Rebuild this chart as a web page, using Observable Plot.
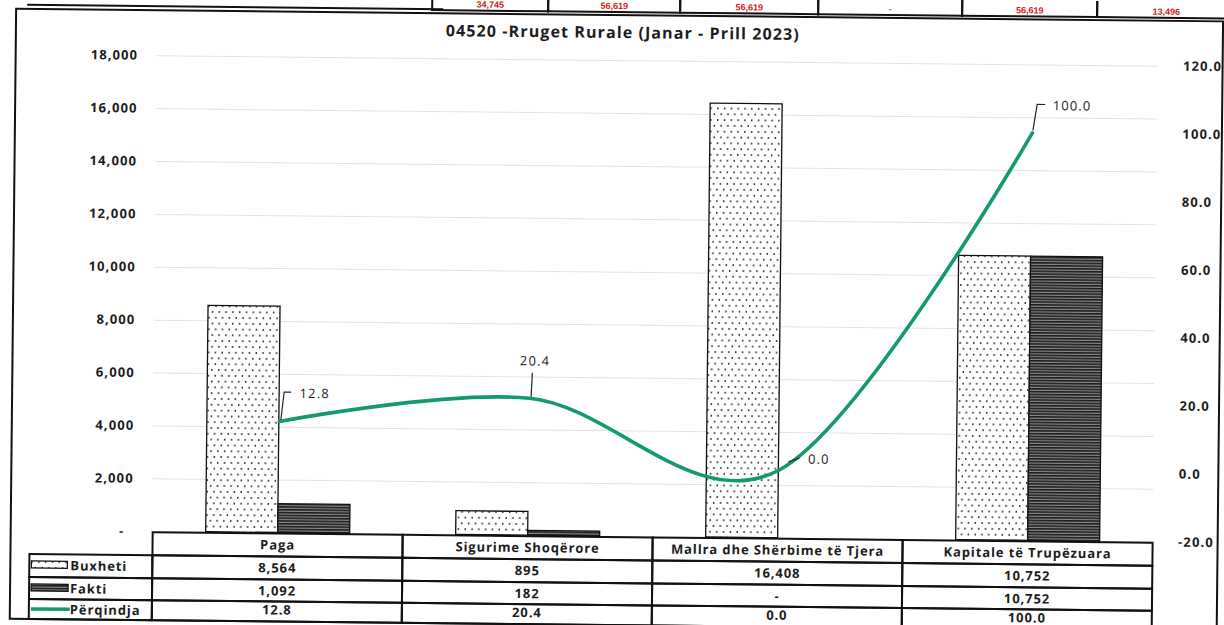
<!DOCTYPE html>
<html><head><meta charset="utf-8">
<script src="https://cdn.jsdelivr.net/npm/d3@7"></script>
<script src="https://cdn.jsdelivr.net/npm/@observablehq/plot@0.6"></script>
<style>
html,body{margin:0;padding:0;background:#fff;}
#page{position:relative;width:1224px;height:625px;overflow:hidden;background:#fff;font-family:'Open Sans',sans-serif;color:#1c1c1c;}
#rot{position:absolute;left:0;top:0;width:1224px;height:625px;transform:rotate(0.6deg);transform-origin:612px 312px;}
.abs{position:absolute;box-sizing:border-box;}
.cell{position:absolute;box-sizing:border-box;border:2px solid #111;display:flex;align-items:center;justify-content:center;font-weight:700;font-size:13px;letter-spacing:0.9px;white-space:nowrap;color:#1c1c1c;}
.strip{position:absolute;box-sizing:border-box;border:2px solid #111;border-top:none;display:flex;align-items:flex-end;justify-content:center;font-family:'Liberation Sans Narrow','Liberation Sans',sans-serif;font-weight:700;font-size:9px;color:#d9201c;line-height:9px;padding-bottom:0px;}
</style></head><body>
<div id="page"><div id="rot"></div></div>
<script>
// ---------- data ----------
const categories = ["Paga", "Sigurime Shoqërore", "Mallra dhe Shërbime të Tjera", "Kapitale të Trupëzuara"];
const buxheti = [8564, 895, 16408, 10752];
const fakti = [1092, 182, 0, 10752];
const perqindja = [12.8, 20.4, 0.0, 100.0];
const seriesNames = ["Buxheti", "Fakti", "Përqindja"];
const leftTicks = [0, 2000, 4000, 6000, 8000, 10000, 12000, 14000, 16000, 18000];
const rightTicks = [-20, 0, 20, 40, 60, 80, 100, 120];
const chartTitle = "04520 -Rruget Rurale (Janar - Prill 2023)";
const stripValues = ["34,745", "56,619", "56,619", "-", "56,619", "13,496"];

// ---------- helpers ----------
const rot = document.getElementById("rot");
const NS = "http://www.w3.org/2000/svg";
function div(cls, style, text) {
  const d = document.createElement("div");
  d.className = cls;
  Object.assign(d.style, style);
  if (text) d.textContent = text;
  rot.appendChild(d);
  return d;
}

// cropped table row above the chart
div("abs", {left: "24px", top: "10px", width: "416px", height: "2px", background: "#111"});
const stripEdges = [429, 545, 677, 815, 959, 1094, 1232];
for (let i = 0; i < stripEdges.length - 1; i++) {
  div("strip", {left: (stripEdges[i] - 1) + "px", top: "-4px", width: (stripEdges[i + 1] - stripEdges[i] + 2) + "px", height: "16.5px"}, stripValues[i]);
}

// outer frame
div("abs", {left: "12px", top: "14px", width: "1209px", height: "612px", border: "2.5px solid #111"});

// title
div("abs", {left: "0px", top: "21px", width: "1240px", textAlign: "center", fontWeight: "700", fontSize: "16px", letterSpacing: "1.1px", color: "#1c1c1c"}, chartTitle);

// ---------- chart ----------
const pctToLeft = d3.scaleLinear().domain([-20, 120]).range([0, 18000]);
const fmtPct = v => ((Math.round(v * 10) / 10) || 0).toFixed(1);
const bars = categories.flatMap((c, i) => [
  {cat: c, s: seriesNames[0], v: buxheti[i]},
  {cat: c, s: seriesNames[1], v: fakti[i]}
]);
const lineData = categories.map((c, i) => ({cat: c, p: perqindja[i], v: pctToLeft(perqindja[i])}));

const labelStyle = {
  "Paga": {dx: 20, dy: -28, anchor: "start", leader: [[2, -1], [5, -29], [12, -29]]},
  "Sigurime Shoqërore": {dx: 5, dy: -37, anchor: "middle", leader: [[2, -1], [3, -25]]},
  "Mallra dhe Shërbime të Tjera": {dx: 29, dy: -11, anchor: "start", leader: [[10, -8], [21, -12]]},
  "Kapitale të Trupëzuara": {dx: 20, dy: -27, anchor: "start", leader: [[1, -2], [5, -28], [13, -28]]}
};

const chart = Plot.plot({
  width: 1224,
  height: 537,
  marginTop: 60,
  marginBottom: 1,
  marginLeft: 154,
  marginRight: 69,
  style: {background: "transparent", fontFamily: "'Open Sans', sans-serif", fontSize: "13px", fontWeight: "700", color: "#1c1c1c", letterSpacing: "1.1px", overflow: "visible", position: "absolute", left: "0px", top: "0px"},
  x: {domain: categories, padding: 0, axis: null, label: null},
  y: {domain: [0, 18000], axis: null, label: null},
  marks: [
    Plot.gridY(leftTicks, {stroke: "#e2e2e2", strokeOpacity: 1}),
    Plot.barY(bars.filter(d => d.s === seriesNames[0]), {x: "cat", y: "v", fill: "url(#dots)", stroke: "#111", strokeWidth: 1.3, insetLeft: 53, insetRight: 125}),
    Plot.barY(bars.filter(d => d.s === seriesNames[1]), {x: "cat", y: "v", fill: "url(#hlines)", stroke: "#111", strokeWidth: 1.3, insetLeft: 125, insetRight: 53}),
    Plot.line(lineData, {x: "cat", y: "v", curve: "cardinal", stroke: "#139a6f", strokeWidth: 3.6}),
    Plot.axisY(leftTicks, {anchor: "left", label: null, tickSize: 0, tickPadding: 19, tickFormat: d => d === 0 ? "-\u00a0\u00a0" : d3.format(",")(d)}),
    Plot.axisY(rightTicks.map(t => pctToLeft(t)), {anchor: "right", label: null, tickSize: 0, tickPadding: 25, tickFormat: d => fmtPct(pctToLeft.invert(d))}),
    categories.map(c => Plot.text(lineData, {
      filter: d => d.cat === c, x: "cat", y: "v", text: d => fmtPct(d.p),
      dx: labelStyle[c].dx, dy: labelStyle[c].dy, textAnchor: labelStyle[c].anchor,
      fontWeight: 400, fontSize: 13, fill: "#222"
    }))
  ]
});

// patterns
const defs = document.createElementNS(NS, "defs");
defs.innerHTML = `
<pattern id="dots" patternUnits="userSpaceOnUse" width="6.8" height="11.6">
  <rect width="6.8" height="11.6" fill="#fff"/>
  <circle cx="1.7" cy="2.9" r="0.85" fill="#1a1a1a"/>
  <circle cx="5.1" cy="8.7" r="0.85" fill="#1a1a1a"/>
</pattern>
<pattern id="hlines" patternUnits="userSpaceOnUse" width="8" height="2.8">
  <rect width="8" height="2.8" fill="#8a8a8a"/>
  <rect width="8" height="1.6" fill="#1c1c1c"/>
</pattern>`;
chart.insertBefore(defs, chart.firstChild);
rot.appendChild(chart);

// leader lines, placed with Plot's own scales
const sx = chart.scale("x"), sy = chart.scale("y");
lineData.forEach(d => {
  const px = sx.apply(d.cat) + sx.bandwidth / 2;
  const py = sy.apply(d.v);
  const pts = labelStyle[d.cat].leader;
  const path = document.createElementNS(NS, "path");
  path.setAttribute("d", pts.map((p, i) => (i ? "L" : "M") + (px + p[0]) + "," + (py + p[1])).join(""));
  path.setAttribute("fill", "none");
  path.setAttribute("stroke", "#222");
  path.setAttribute("stroke-width", "1.2");
  chart.appendChild(path);
});

// ---------- data table ----------
const colEdges = categories.map(c => sx.apply(c)).concat([sx.apply(categories[categories.length - 1]) + sx.bandwidth]);
const rowEdges = [537, 559.5, 582.5, 605, 624.5];
const legendLeft = 32;
function fmtNum(v) { return v === 0 ? "-" : d3.format(",")(v); }
// header
categories.forEach((c, i) => {
  div("cell", {left: (colEdges[i] - 1) + "px", top: (rowEdges[0] - 1) + "px", width: (colEdges[i + 1] - colEdges[i] + 2) + "px", height: (rowEdges[1] - rowEdges[0] + 2) + "px"}, c);
});
const rowValues = [buxheti.map(fmtNum), fakti.map(fmtNum), perqindja.map(fmtPct)];
rowValues.forEach((vals, r) => {
  const top = rowEdges[r + 1] - 1, h = rowEdges[r + 2] - rowEdges[r + 1] + 2;
  const pad = r === 2 ? "4px" : "0px";
  vals.forEach((v, i) => {
    div("cell", {left: (colEdges[i] - 1) + "px", top: top + "px", width: (colEdges[i + 1] - colEdges[i] + 2) + "px", height: h + "px", paddingBottom: pad}, v);
  });
  // legend cell
  const lc = div("cell", {left: (legendLeft - 1) + "px", top: top + "px", width: (colEdges[0] - legendLeft + 2) + "px", height: h + "px", justifyContent: "flex-start", paddingLeft: "0px"});
  const sw = document.createElementNS(NS, "svg");
  sw.setAttribute("width", "40"); sw.setAttribute("height", "12");
  sw.style.flex = "none";
  if (r === 0) sw.innerHTML = '<rect x="1" y="2" width="36" height="7" fill="url(#dots)" stroke="#111" stroke-width="1.3"/>';
  if (r === 1) sw.innerHTML = '<rect x="1" y="2" width="37" height="7" fill="url(#hlines)" stroke="#111" stroke-width="1.3"/>';
  if (r === 2) sw.innerHTML = '<line x1="1" x2="40" y1="6" y2="6" stroke="#139a6f" stroke-width="3.5"/>';
  lc.appendChild(sw);
  const t = document.createElement("span");
  t.textContent = seriesNames[r];
  lc.appendChild(t);
});
</script></body></html>
